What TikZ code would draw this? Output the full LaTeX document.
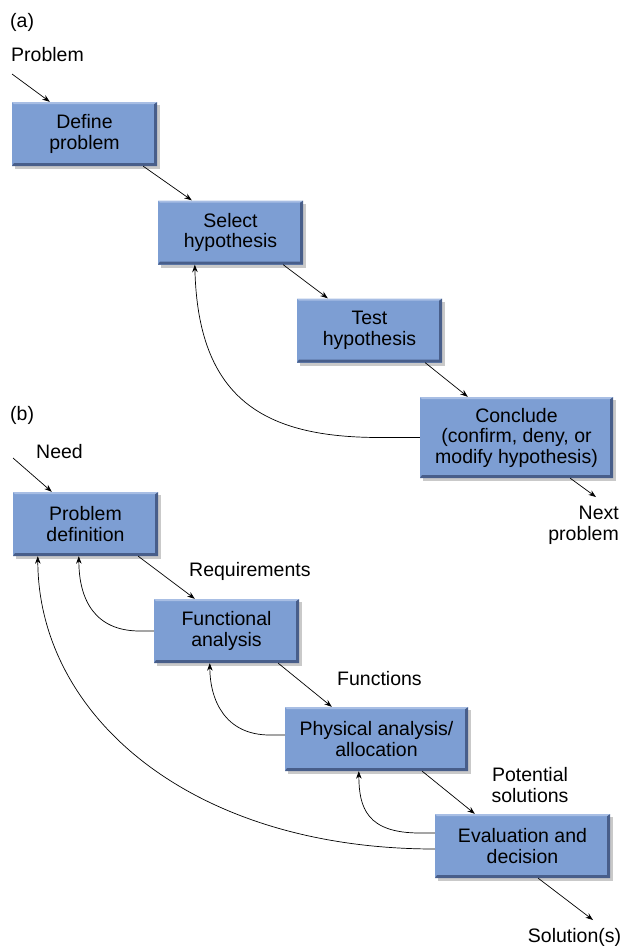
\documentclass[tikz,border=0pt]{standalone}
\usepackage{fontspec}
\setmainfont{Liberation Sans}
\usetikzlibrary{arrows.meta,shadows}
\definecolor{boxblue}{RGB}{125,158,211}
\definecolor{boxdark}{RGB}{72,94,138}
\definecolor{boxlight}{RGB}{168,190,228}
\newcommand{\stagefont}{\fontsize{19.5pt}{20.5pt}\selectfont}

\begin{document}
\begin{tikzpicture}[x=1pt,y=-1pt]
 \tikzset{stage box/.style={
    fill=boxblue,
    minimum width=#1, minimum height=64pt,
    align=center, inner sep=0pt,
    font=\stagefont,
    drop shadow={shadow xshift=3pt, shadow yshift=-3pt, opacity=.3, fill=black!70},
    path picture={
      \fill[boxdark] (path picture bounding box.south west)
        -- (path picture bounding box.south east)
        -- (path picture bounding box.north east)
        -- ([shift={(-3pt,-2pt)}]path picture bounding box.north east)
        -- ([shift={(-3pt,3pt)}]path picture bounding box.south east)
        -- ([shift={(2pt,3pt)}]path picture bounding box.south west) -- cycle;
      \fill[boxlight] (path picture bounding box.north west)
        -- (path picture bounding box.north east)
        -- ([shift={(-3pt,-2pt)}]path picture bounding box.north east)
        -- ([shift={(2pt,-2pt)}]path picture bounding box.north west) -- cycle;
    }
  },
  stage box/.default=145pt,
  flow/.style={-{Stealth[length=7.5pt,width=5.5pt]}, line width=.7pt},
  tag/.style={font=\stagefont, inner sep=0pt}
}
\useasboundingbox (0,0) rectangle (624,946);

\node[tag, anchor=base west] (tagA) at (10,27) {(a)};
\node[tag, anchor=base west] (problem) at (11,61) {Problem};
\node[stage box] (define) at (84.5,134) {Define\\problem};
\node[stage box] (select) at (230.5,232.5) {Select\\hypothesis};
\node[stage box] (test) at (369.5,330.5) {Test\\hypothesis};
\node[stage box=193pt, minimum height=81pt] (conclude) at (516.5,437.5) {Conclude\\(confirm, deny, or\\modify hypothesis)};
\node[tag, anchor=east, align=right] (next) at (619,525.5) {Next\\problem};
\coordinate (probin) at (12,74);
\coordinate (nextout) at (596,497);

\draw[flow] (probin) -- ([xshift=38pt]define.north west);
\draw[flow] ([xshift=-14pt]define.south east) -- ([xshift=34pt]select.north west);
\draw[flow] ([xshift=-20pt]select.south east) -- ([xshift=31pt]test.north west);
\draw[flow] ([xshift=-17pt]test.south east) -- ([xshift=48pt]conclude.north west);
\draw[flow] ([xshift=-43pt]conclude.south east) -- (nextout);
\draw[flow] (conclude.west) -- ++(-40,0) .. controls (265,437.5) and (198,400) .. ([xshift=37pt]select.south west);

\node[tag, anchor=base west] (tagB) at (10,420) {(b)};
\node[tag, anchor=base west] (need) at (36,458) {Need};
\node[stage box] (probdef) at (85.5,524) {Problem\\definition};
\node[stage box] (funcana) at (226.5,631) {Functional\\analysis};
\node[stage box=183pt] (physana) at (376.5,739) {Physical analysis/\\allocation};
\node[stage box=175pt] (evaldec) at (522.5,846) {Evaluation and\\decision};
\node[tag, anchor=base west] (reqs) at (189,576) {Requirements};
\node[tag, anchor=base west] (funcs) at (337,685) {Functions};
\node[tag, align=center] (potsol) at (530,785) {Potential\\solutions};
\node[tag, anchor=base] (sols) at (574.5,942) {Solution(s)};
\coordinate (needin) at (13,458);
\coordinate (solout) at (593,920);

\draw[flow] (needin) -- ([xshift=39pt]probdef.north west);
\draw[flow] ([xshift=-20pt]probdef.south east) -- ([xshift=41pt]funcana.north west);
\draw[flow] ([xshift=-21pt]funcana.south east) -- ([xshift=47pt]physana.north west);
\draw[flow] ([xshift=-46pt]physana.south east) -- ([xshift=40pt]evaldec.north west);
\draw[flow] ([xshift=-72pt]evaldec.south east) -- (solout);
\draw[flow] (funcana.west) -- ++(-14,0) .. controls (95,631) and (79,600) .. ([xshift=66pt]probdef.south west);
\draw[flow] ([yshift=4pt]physana.west) -- ++(-15,0) .. controls (225,735) and (210,700) .. ([xshift=56pt]funcana.south west);
\draw[flow] ([yshift=13pt]evaldec.west) -- ++(-15,0) .. controls (367,833) and (359,808) .. ([xshift=74pt]physana.south west);
\draw[flow] ([yshift=-3pt]evaldec.west) .. controls (190,849) and (38,715) .. ([xshift=25pt]probdef.south west);
\end{tikzpicture}
\end{document}
